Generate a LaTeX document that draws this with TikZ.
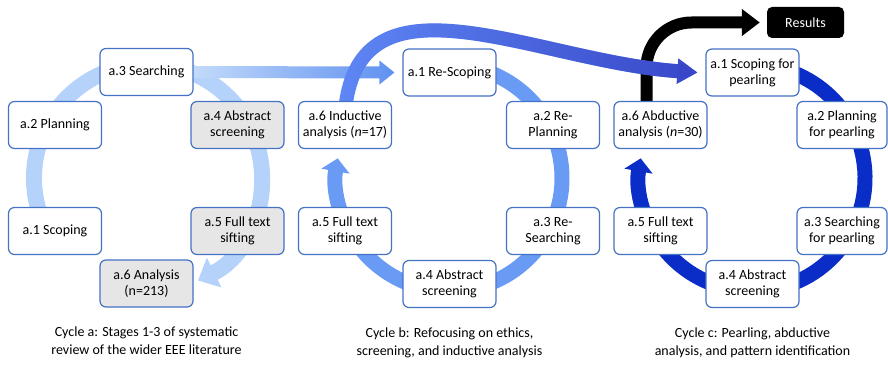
\documentclass[tikz,border=0pt]{standalone}
\usepackage{fontspec}
\setmainfont{Carlito}
\usetikzlibrary{arrows.meta,positioning,calc,fadings}
\definecolor{boxblue}{RGB}{68,114,196}
\definecolor{boxgray}{RGB}{231,230,230}
\definecolor{cycleacolor}{RGB}{180,210,250}
\definecolor{cyclebcolor}{RGB}{105,155,245}
\definecolor{cycleccolor}{RGB}{10,45,200}
\definecolor{arrowlight}{RGB}{195,218,250}
\definecolor{arrowmid}{RGB}{95,145,240}
\definecolor{wavestart}{RGB}{95,135,245}
\definecolor{waveend}{RGB}{55,70,200}
\tikzfading[name=wavefade,left color=transparent!100,right color=transparent!0]
\pgfdeclarelayer{back}
\pgfsetlayers{back,main}

\begin{document}
\begin{tikzpicture}[x=1pt,y=1pt,font=\fontsize{14}{16}\selectfont]
  \tikzset{stage/.style={draw=boxblue,line width=1.2pt,fill=white,rounded corners=6pt,
                         minimum width=93pt,minimum height=47pt,align=center,inner sep=2pt},
           done/.style={stage,fill=boxgray},
           cycleline/.style={line width=16pt},
           caption/.style={align=center,font=\fontsize{14}{18}\selectfont}}
  \useasboundingbox (0,0) rectangle (888,367);

  % centres of the cycles
  \coordinate (ca) at (148,189);
  \coordinate (cb) at (449,189);
  \coordinate (cc) at (752,189);

  % cycle a
  \node[stage] (a3) at (146.5,295)   {a.3 Searching};
  \node[stage] (a2) at (55,242)      {a.2 Planning};
  \node[done]  (a4) at (237.5,242)   {a.4 Abstract\\screening};
  \node[stage] (a1) at (55,136)      {a.1 Scoping};
  \node[done]  (a5) at (237.5,136)   {a.5 Full text\\sifting};
  \node[done]  (a6) at (146.5,83.5)  {a.6 Analysis\\(n=213)};

  % cycle b
  \node[stage] (b1) at (449.5,294.5) {a.1 Re-Scoping};
  \node[stage] (b2) at (553,242)     {a.2 Re-\\Planning};
  \node[stage] (b3) at (553,136)     {a.3 Re-\\Searching};
  \node[stage] (b4) at (449.5,83)    {a.4 Abstract\\screening};
  \node[stage] (b5) at (345,136)     {a.5 Full text\\sifting};
  \node[stage] (b6) at (345,242)     {a.6 Inductive\\analysis (\textit{n}=17)};

  % cycle c
  \node[stage] (c1) at (752.5,294.5) {a.1 Scoping for\\pearling};
  \node[stage,minimum width=90pt] (c2) at (842,242) {a.2 Planning\\for pearling};
  \node[stage,minimum width=90pt] (c3) at (842,136) {a.3 Searching\\for pearling};
  \node[stage] (c4) at (752.5,83)    {a.4 Abstract\\screening};
  \node[stage] (c5) at (660.5,136)   {a.5 Full text\\sifting};
  \node[stage] (c6) at (660.5,242)   {a.6 Abductive\\analysis (\textit{n}=30)};

  \node[fill=black,text=white,rounded corners=5pt,minimum width=77pt,minimum height=31pt]
    (results) at (805.5,344.5) {Results};

  \begin{pgfonlayer}{back}
  % cycle rings
  \draw[cycleline,cycleacolor,-{Triangle[width=32pt,length=18pt]}]
    (ca) ++(200:114) arc[start angle=200,end angle=-64,radius=114];
  \draw[cycleline,line width=15pt,cyclebcolor,-{Triangle[width=28pt,length=13pt]}]
    (cb) ++(100:113) arc[start angle=100,end angle=-190,radius=113];
  \draw[cycleline,line width=15pt,cycleccolor,-{Triangle[width=28pt,length=13pt]}]
    (cc) ++(100:113) arc[start angle=100,end angle=-190,radius=113];

  % links between the cycles
  \shade[left color=arrowlight,right color=arrowmid]
    ($(a3.east)+(0,6)$) -- ($(b1.west)+(-23,6)$) -- ($(b1.west)+(-23,12)$)
    -- ($(b1.west)+(-8,0)$) -- ($(b1.west)+(-23,-12)$) -- ($(b1.west)+(-23,-6)$)
    -- ($(a3.east)+(0,-6)$) -- cycle;
  \draw[line width=12pt,rounded corners=45pt,-{Triangle[width=26pt,length=18pt]}]
    ($(c6.north)+(-14,-2)$) |- ($(results.west)+(-7,0)$);
  \draw[line width=14pt,wavestart,-{Triangle[width=24pt,length=20pt]}]
    ($(b6.north)+(1,-2)$) .. controls (365,400) and (540,305) .. ($(c1.west)+(-8,0)$);
  \draw[line width=14pt,waveend,path fading=wavefade,-{Triangle[width=24pt,length=20pt]}]
    ($(b6.north)+(1,-2)$) .. controls (365,400) and (540,305) .. ($(c1.west)+(-8,0)$);
  \end{pgfonlayer}

  % captions
  \node[caption,below=16pt of a6] (capa) {Cycle a: Stages 1-3 of systematic\\review of the wider EEE literature};
  \node[caption,below=16pt of b4] (capb) {Cycle b: Refocusing on ethics,\\screening, and inductive analysis};
  \node[caption,below=16pt of c4] (capc) {Cycle c: Pearling, abductive\\analysis, and pattern identification};
\end{tikzpicture}
\end{document}
